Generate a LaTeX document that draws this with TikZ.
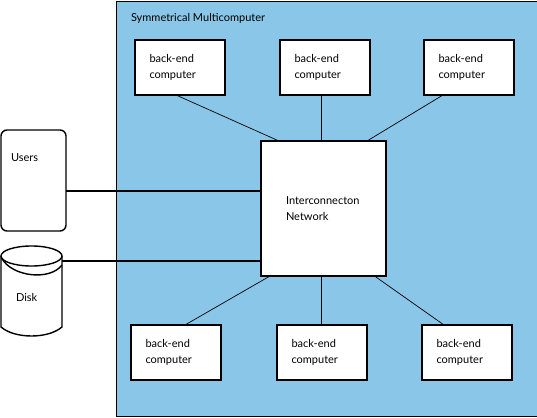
\documentclass[tikz,border=0pt]{standalone}
\usepackage{fontspec}
\setmainfont{Lato}
\usepackage{tikz}
\definecolor{panelblue}{HTML}{89C6E8}
\begin{document}
\begin{tikzpicture}[
x=1pt, y=-1pt,
every node/.style = {font=\fontsize{11}{16}\selectfont, text=black},
 BE/.style = {rectangle, draw, fill=white, line width=1.5pt, anchor=north west,
              minimum width=90pt, minimum height=55pt,
              align=left, text width=61pt, outer sep=0pt},% back-end boxes
 link/.style = {draw, line width=0.7pt},
 feed/.style = {draw, line width=1.5pt},
                    ]
\useasboundingbox (0,0) rectangle (537,417);
\node[draw, fill=panelblue, line width=0.9pt, anchor=north west, minimum width=420.5pt, minimum height=415pt,
      outer sep=0pt] (panel) at (116.5,1) {};
\node[anchor=west] (title) at (127.5,18.5) {Symmetrical Multicomputer};
\foreach \i/\x in {1/135,2/280,3/424}% <-- top row
    \node[BE] (T-\i) at (\x,40) {back-end\\computer};
\foreach \i/\x in {1/131,2/277,3/422}% <-- bottom row
    \node[BE] (B-\i) at (\x,325) {back-end\\computer};
\node[draw, fill=white, line width=1.7pt, anchor=north west, minimum width=125pt, minimum height=135pt,
      align=left, text width=75pt, outer sep=0pt] (net) at (261,141) {Interconnecton\\Network};
\draw[link] ([xshift=-4pt] T-1.south) -- ([xshift=-44.5pt] net.north);
\draw[link] ([xshift=-4pt] T-2.south) -- ([xshift=-2.5pt] net.north);
\draw[link] ([xshift=-26pt] T-3.south) -- ([xshift=43.5pt] net.north);
\draw[link] ([xshift=9pt] B-1.north) -- ([xshift=-53.5pt] net.south);
\draw[link] ([xshift=-1pt] B-2.north) -- ([xshift=-2.5pt] net.south);
\draw[link] ([xshift=-23pt] B-3.north) -- ([xshift=51pt] net.south);
% users and disk
\node[draw, fill=white, rounded corners=6pt, line width=1.4pt, anchor=north west, minimum width=65pt, minimum height=101pt,
      outer sep=0pt] (users) at (1,130) {};
\node[anchor=west] (userslabel) at (7.5,157.5) {Users};
\draw[line width=1.4pt, fill=white] (1,256) -- (1,327) .. controls (15,339) and (48,339) .. (62,327) -- (62,256);
\draw[line width=1.4pt] (1.5,258) .. controls (12,277) and (50,281) .. (62,265);
\draw[line width=1.4pt] (31.5,256) ellipse [x radius=30.5, y radius=10];
\node[anchor=west] (disklabel) at (12.5,297) {Disk};
\coordinate (diskport) at (62,261);
\draw[feed] ([yshift=-10.5pt] users.east) -- ([yshift=-10.5pt] users.east -| net.west);
\draw[feed] (diskport) -- (diskport -| net.west);
\end{tikzpicture}
\end{document}
